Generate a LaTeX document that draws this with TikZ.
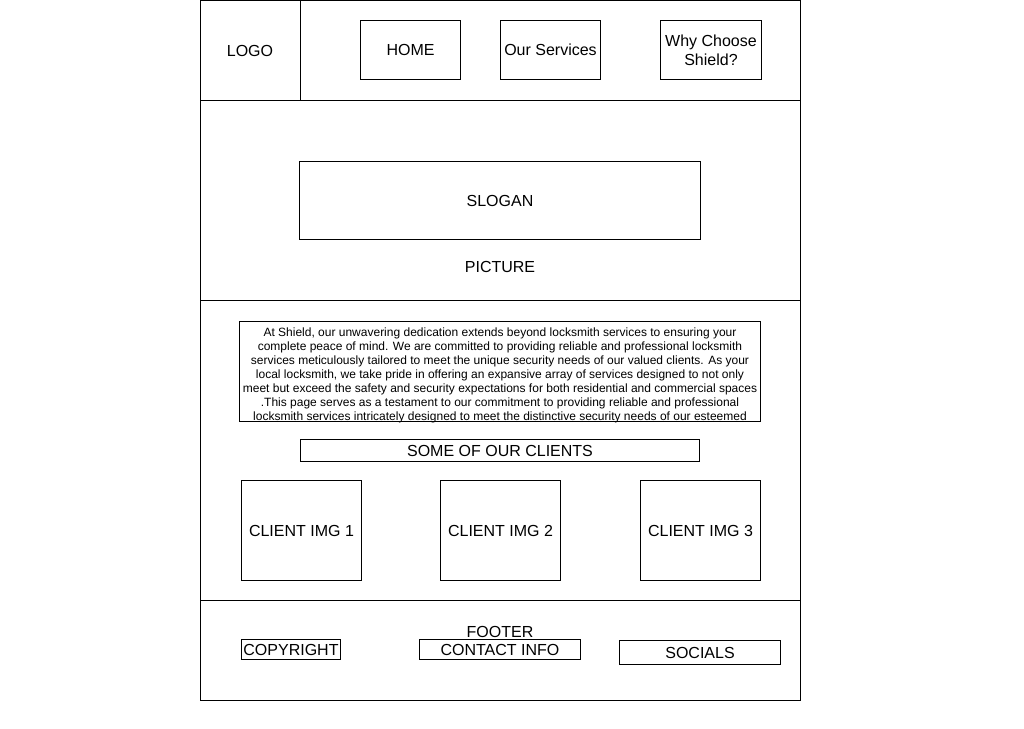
\documentclass[tikz,border=0pt]{standalone}
\usepackage{fontspec}
\setmainfont{Liberation Sans}
\tikzset{
    section/.style={draw,line width=1pt,inner sep=0pt,minimum width=600pt},
    box/.style={draw,line width=1pt,inner sep=0pt,font=\fontsize{16}{19}\selectfont,align=center},
    label/.style={inner sep=0pt,font=\fontsize{16}{19}\selectfont}
}
\begin{document}
\begin{tikzpicture}[x=1pt,y=-1pt]
    \useasboundingbox (0,0) rectangle (1024,728);
    % page sections
    \node[section,minimum height=100pt] at (500,50.5) (header) {};
    \node[section,minimum height=200pt] at (500,200.5) (hero) {};
    \node[section,minimum height=300pt] at (500,450.5) (content) {};
    \node[section,minimum height=100pt] at (500,650.5) (footer) {};
    % header
    \node[box,minimum width=100pt,minimum height=100pt] at (250,50.5) (logo) {LOGO};
    \node[box,minimum width=100pt,minimum height=59pt] at (410.5,50) (home) {HOME};
    \node[box,minimum width=100pt,minimum height=59pt] at (550.5,50) (services) {Our Services};
    \node[box,minimum width=101pt,minimum height=59pt] at (711,50) (why) {Why Choose\\Shield?};
    % hero
    \node[box,minimum width=401pt,minimum height=78pt] at (500,200.5) (slogan) {SLOGAN};
    \node[label] at (500,266.5) (picture) {PICTURE};
    % content
    \node[draw,line width=1pt,minimum width=521pt,minimum height=100pt,inner sep=0pt] at (500,371.5) (about) {};
    \node[anchor=north,inner sep=0pt,align=center,font=\fontsize{12}{14}\selectfont] at (500,328) (abouttext) {%
        At Shield, our unwavering dedication extends beyond locksmith services to ensuring your\\
        complete peace of mind. We are committed to providing reliable and professional locksmith\\
        services meticulously tailored to meet the unique security needs of our valued clients. As your\\
        local locksmith, we take pride in offering an expansive array of services designed to not only\\
        meet but exceed the safety and security expectations for both residential and commercial spaces\\
        .This page serves as a testament to our commitment to providing reliable and professional\\
        locksmith services intricately designed to meet the distinctive security needs of our esteemed};
    \node[box,minimum width=399pt,minimum height=22pt] at (500,450.5) (clients) {SOME OF OUR CLIENTS};
    \node[box,minimum width=120pt,minimum height=100pt] at (301.5,530.5) (client1) {CLIENT IMG 1};
    \node[box,minimum width=120pt,minimum height=100pt] at (500.5,530.5) (client2) {CLIENT IMG 2};
    \node[box,minimum width=120pt,minimum height=100pt] at (700.5,530.5) (client3) {CLIENT IMG 3};
    % footer
    \node[label] at (500,631.5) (footertitle) {FOOTER};
    \node[box,minimum width=99pt,minimum height=20pt] at (291,649.5) (copyright) {COPYRIGHT};
    \node[box,minimum width=161pt,minimum height=20pt] at (500,649.5) (contact) {CONTACT INFO};
    \node[box,minimum width=161pt,minimum height=24pt] at (700,652.5) (socials) {SOCIALS};
\end{tikzpicture}
\end{document}
